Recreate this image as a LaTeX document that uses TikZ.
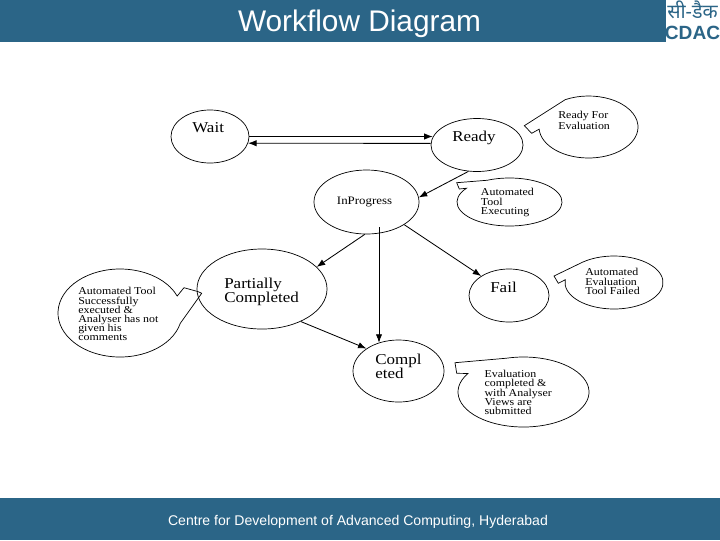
\documentclass[tikz,border=0pt]{standalone}
\usepackage{fontspec}
\setmainfont{Liberation Serif}
\newfontfamily\headfont{Liberation Sans}
\newfontfamily\widefont[FakeStretch=1.13]{Liberation Serif}
\newfontfamily\hindifont[Script=Devanagari]{Noto Sans}
\usetikzlibrary{arrows.meta,shapes.geometric}
\definecolor{barblue}{HTML}{2B6587}
\lineskiplimit=-20pt

\begin{document}
\begin{tikzpicture}[
		x=0.025cm,y=-0.025cm,
		>={Latex[length=6pt,width=4.5pt]},
		bar/.style={fill=barblue, draw=none},
		statebox/.style={draw, ellipse, line width=0.5pt, inner sep=0pt},
		statetext/.style={anchor=west, align=left, inner sep=0pt, font=\widefont\fontsize{10.7}{10}\selectfont},
		balloon/.style={draw, line width=0.5pt, line join=miter},
		notetext/.style={anchor=west, align=left, inner sep=0pt, font=\widefont\fontsize{7.5}{6.5}\selectfont},
		link/.style={->, line width=0.6pt}
		]
		\useasboundingbox (0,0) rectangle (720,540);
		
		% --------------------------------------------------
		% Header and footer
		% --------------------------------------------------
		\fill[bar] (0,0) rectangle (720,42);
		\fill[bar] (0,498) rectangle (720,540);
		\fill[white] (666,0) rectangle (720,42);
		
		\node[text=white, font=\headfont\fontsize{21.2}{24}\selectfont] (title) at (359.5,23.5) {Workflow Diagram};
		\node[text=white, font=\headfont\fontsize{10}{12}\selectfont] (footer) at (358,521.5) {Centre for Development of Advanced Computing, Hyderabad};
		
		% logo
		\node[text=barblue, font=\hindifont\bfseries\fontsize{14}{15}\selectfont, inner sep=0pt] (logohindi) at (692.5,10) {सी-डैक};
		\node[text=barblue, font=\headfont\bfseries\fontsize{13.6}{14}\selectfont, inner sep=0pt] (logocdac) at (692.5,33) {CDAC};
		
		% --------------------------------------------------
		% States
		% --------------------------------------------------
		\node[statebox, minimum width=1.95cm, minimum height=1.325cm] (wait) at (210,136.5) {};
		\node[statebox, minimum width=2.3cm, minimum height=1.325cm] (ready) at (477,145) {};
		\node[statebox, minimum width=2.625cm, minimum height=1.6cm] (inprogress) at (366.5,202) {};
		\node[statebox, minimum width=3.25cm, minimum height=2cm] (partial) at (262,289) {};
		\node[statebox, minimum width=2.275cm, minimum height=1.55cm] (compl) at (398.5,371) {};
		\node[statebox, minimum width=2cm, minimum height=1.325cm] (fail) at (509,295.5) {};
		
		\node[statetext] (waitlabel) at (192,127.5) {Wait};
		\node[statetext] (readylabel) at (452,137.5) {Ready};
		\node[statetext, font=\widefont\fontsize{8.1}{10}\selectfont] (inprogresslabel) at (336.7,202) {InProgress};
		\node[statetext] (partiallabel) at (224,291.5) {Partially\\Completed};
		\node[statetext] (compllabel) at (375,366.5) {Compl\\eted};
		\node[statetext] (faillabel) at (490,287) {Fail};
		
		% --------------------------------------------------
		% Links between states
		% --------------------------------------------------
		\coordinate (drop) at (379,227);
		
		\draw[link] (wait.east) -- (wait.east -| ready.170);
		\draw[link] (ready.178) -- (wait.350);
		\draw[link] (ready.252) -- (inprogress.5);
		\draw[link] (inprogress.267) -- (partial.22);
		\draw[link] (drop) -- (drop |- compl.125);
		\draw[link] (inprogress.329) -- (fail.145);
		\draw[link] (partial.320) -- (compl.145);
		
		% --------------------------------------------------
		% Balloons
		% --------------------------------------------------
		\draw[balloon] (588.5,127) ++(176:49.5 and 31)
		arc[start angle=176, end angle=-118, x radius=49.5, y radius=31]
		-- (524.3,125.7) -- (531.7,133.3) -- cycle;
		\node[notetext, font=\widefont\fontsize{7.5}{7.4}\selectfont] (readynote) at (558,120.5) {Ready For\\Evaluation};
		
		\draw[balloon] (509.5,202) ++(215:52.5 and 24)
		arc[start angle=215, end angle=-115, x radius=52.5, y radius=24]
		-- (456.7,182.7) -- (459.3,189) -- cycle;
		\node[notetext] (toolnote) at (480.7,202.5) {Automated\\Tool\\Executing};
		
		\draw[balloon] (120,313) ++(13.6:62 and 44)
		arc[start angle=13.6, end angle=337.3, x radius=62, y radius=44]
		-- (184,287.7) -- (198.3,291.7) -- (201.7,293.3) -- cycle;
		\node[notetext] (partialnote) at (78,314.2) {Automated Tool\\Successfully\\executed \&\\Analyser has not\\given his\\comments};
		
		\draw[balloon] (614,282.5) ++(186:49 and 26.5)
		arc[start angle=186, end angle=-130, x radius=49, y radius=26.5]
		-- (554,276) -- (558.3,283.3) -- cycle;
		\node[notetext] (failnote) at (585,281.5) {Automated\\Evaluation\\Tool Failed};
		
		\draw[balloon] (523.5,392) ++(212:65.5 and 35)
		arc[start angle=212, end angle=-105, x radius=65.5, y radius=35]
		-- (455,362.7) -- (456.7,373.3) -- cycle;
		\node[notetext] (complnote) at (484.3,392.5) {Evaluation\\completed \&\\with Analyser\\Views are\\submitted};
		
	\end{tikzpicture}
\end{document}
